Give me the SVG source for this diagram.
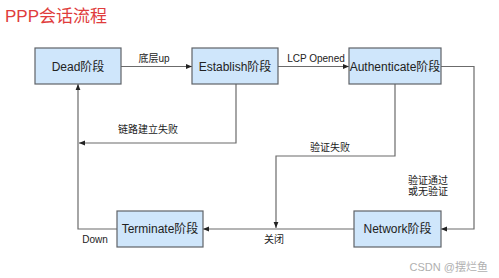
<svg xmlns="http://www.w3.org/2000/svg" width="499" height="278" viewBox="0 0 499 278">
<style>
.box{fill:#cfe6fb;stroke:#5f6368;stroke-width:1.2}
.nt{font-family:"Liberation Sans","Noto Sans CJK SC",sans-serif;font-size:12px;fill:#222;text-anchor:middle;dominant-baseline:central}
.lb{font-family:"Liberation Sans","Noto Sans CJK SC",sans-serif;font-size:10px;fill:#222;text-anchor:middle;dominant-baseline:central}
.ln{fill:none;stroke:#6b6b6b;stroke-width:1.2}
</style>
<defs>
<marker id="ah" viewBox="0 0 10 10" refX="10" refY="5" markerWidth="5" markerHeight="5" orient="auto">
<path d="M0,1 L10,5 L0,9 z" fill="#222"/>
</marker>
</defs>
<rect width="499" height="278" fill="#fff"/>
<text x="5" y="22" font-family="'Liberation Sans','Noto Sans CJK SC',sans-serif" font-size="17" fill="#e03c3c">PPP会话流程</text>
<g id="connectors">
<path class="ln" d="M121,66.5 H192" marker-end="url(#ah)"/>
<path class="ln" d="M278,66.5 H349" marker-end="url(#ah)"/>
<path class="ln" d="M441,66.5 H474 V229 H441" marker-end="url(#ah)"/>
<path class="ln" d="M236,84 V143 H79" marker-end="url(#ah)"/>
<path class="ln" d="M395,84 V156 H276 V228" marker-end="url(#ah)"/>
<path class="ln" d="M354,229 H203" marker-end="url(#ah)"/>
<path class="ln" d="M117,229 H78 V84" marker-end="url(#ah)"/>
</g>
<g id="labels">
<text class="lb" x="154" y="58">底层up</text>
<text class="lb" x="316" y="58">LCP Opened</text>
<text class="lb" x="148" y="129">链路建立失败</text>
<text class="lb" x="330" y="147">验证失败</text>
<text class="lb" x="428" y="180">验证通过</text>
<text class="lb" x="428" y="191">或无验证</text>
<text class="lb" x="274" y="239">关闭</text>
<text class="lb" x="95" y="239">Down</text>
</g>
<g id="dead"><rect class="box" x="35" y="48" width="86" height="36"/><text class="nt" x="78" y="66.5">Dead阶段</text></g>
<g id="establish"><rect class="box" x="192" y="48" width="86" height="36"/><text class="nt" x="235" y="66.5">Establish阶段</text></g>
<g id="authenticate"><rect class="box" x="349" y="48" width="92" height="36"/><text class="nt" x="395" y="66.5">Authenticate阶段</text></g>
<g id="terminate"><rect class="box" x="117" y="211" width="86" height="36"/><text class="nt" x="160" y="229">Terminate阶段</text></g>
<g id="network"><rect class="box" x="354" y="211" width="87" height="36"/><text class="nt" x="397.5" y="229">Network阶段</text></g>
<text x="488" y="267" text-anchor="end" dominant-baseline="central" font-family="'Liberation Sans','Noto Sans CJK SC',sans-serif" font-size="11" fill="#b0b0b0">CSDN @摆烂鱼</text>
</svg>
